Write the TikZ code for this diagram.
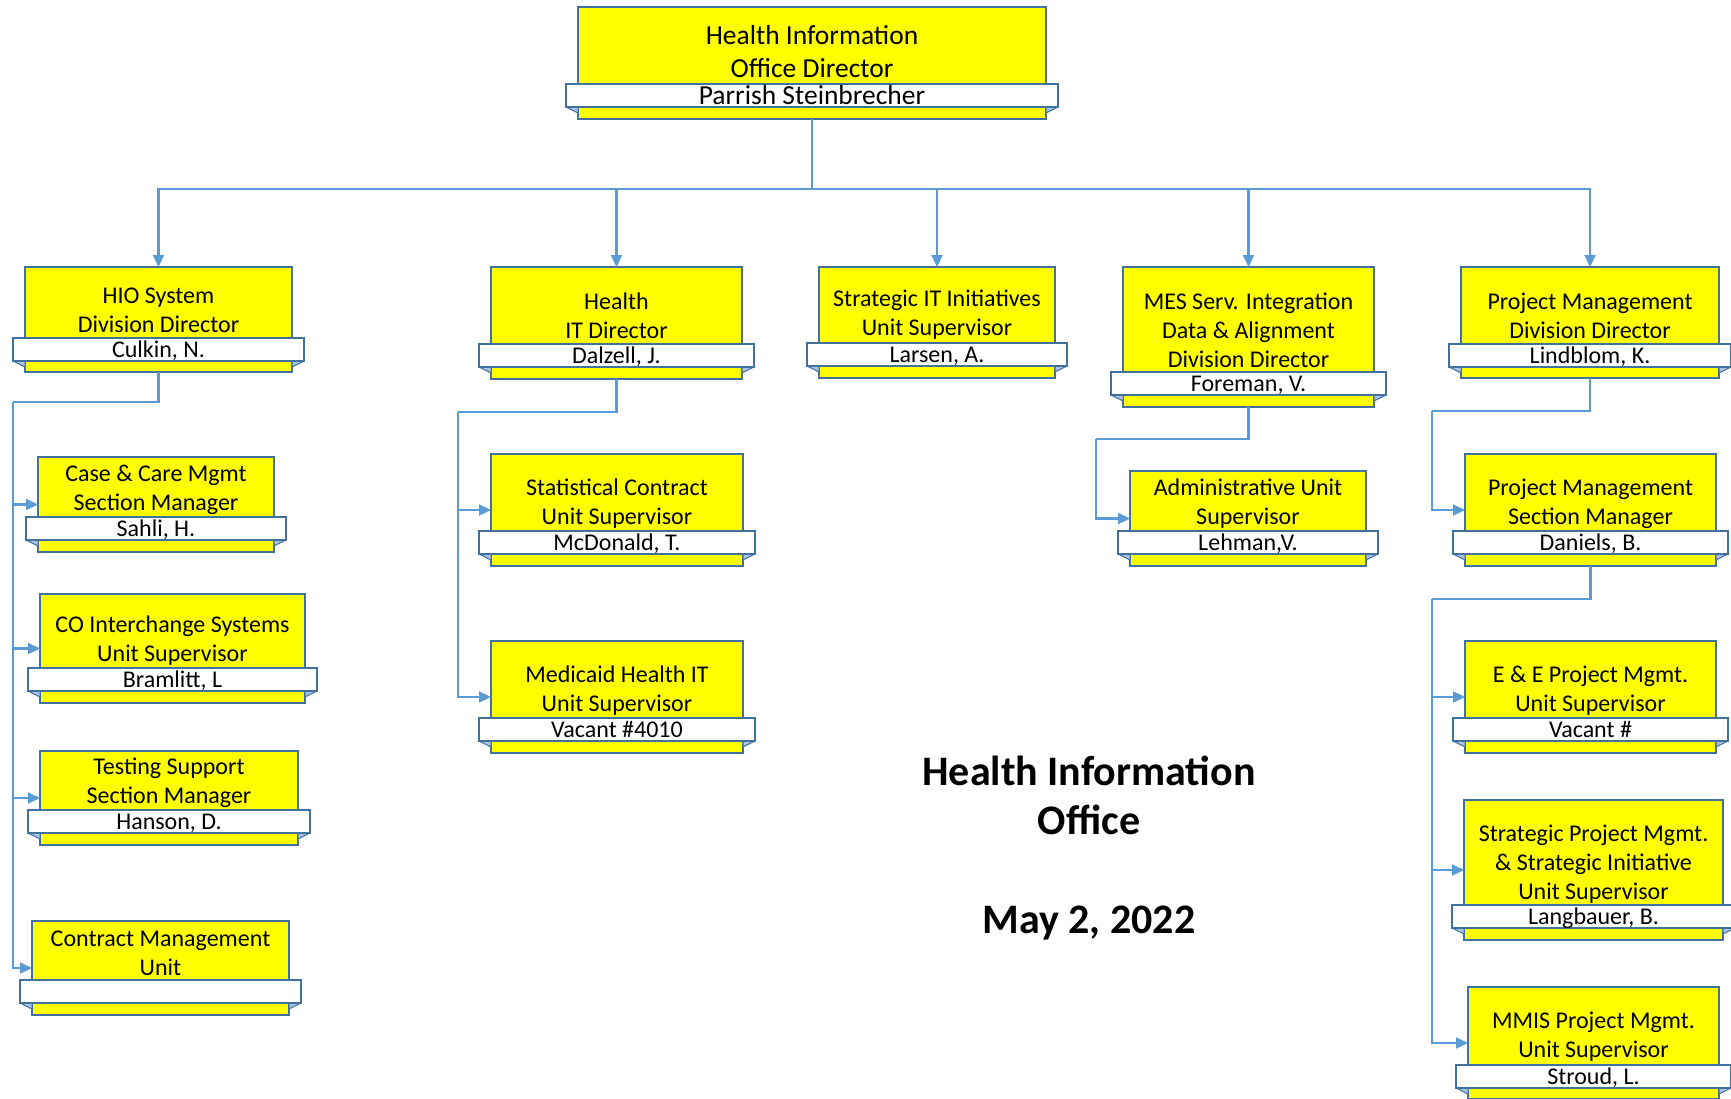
\documentclass[tikz,border=0pt]{standalone}
\usepackage{fontspec}
\setmainfont{Carlito}
\usetikzlibrary{arrows.meta}
\definecolor{boxyellow}{HTML}{FFFF00}
\definecolor{edgeblue}{HTML}{41719C}
\definecolor{linkblue}{HTML}{5B9BD5}
\definecolor{foldblue}{HTML}{A9C4E4}
\tikzset{
 ybox/.style={draw=edgeblue, fill=boxyellow, line width=1.3pt, inner sep=0pt, outer sep=0pt},
 bann/.style={draw=edgeblue, fill=white, line width=1.3pt, inner sep=0pt, outer sep=0pt, minimum height=23pt, font=\fontsize{24}{29}\selectfont, text height=19pt, text depth=3pt},
 ttl/.style={align=center, inner sep=0pt, font=\fontsize{24}{29}\selectfont},
 fold/.style={draw=edgeblue, fill=foldblue, line width=1pt, line join=round},
 conn/.style={draw=linkblue, line width=2.1pt},
 arr/.style={conn, -{Triangle[length=12pt,width=11pt]}},
 headline/.style={align=center, inner sep=0pt, font=\bfseries\fontsize{42}{49}\selectfont},
}
% #1 name, #2 x1, #3 x2, #4 y1, #5 y2, #6 banner top, #7 title, #8 title centre y, #9 person
\newcommand\obox[9]{%
  \node[ybox, minimum width={(#3-#2)*1pt}, minimum height={(#5-#4)*1pt}] (#1) at ({(#2+#3)/2},{(#4+#5)/2}) {};
  \path[fold] (#2-12,#6+23) -- (#2,#6+29) -- (#2,#6+23) -- cycle;
  \path[fold] (#3+12,#6+23) -- (#3,#6+29) -- (#3,#6+23) -- cycle;
  \node[bann, minimum width={(#3-#2+24)*1pt}] (#1n) at ({(#2+#3)/2},#6+11.5) {#9};
  \node[ttl] (#1t) at ({(#2+#3)/2},#8) {#7};
}
\begin{document}
\begin{tikzpicture}[x=1pt,y=-1pt]
\path[use as bounding box] (0,0) rectangle (1731,1098);
\clip (0,0) rectangle (1731,1098);

\begin{scope}[ttl/.append style={font=\fontsize{27.5}{33}\selectfont},
  bann/.append style={font=\fontsize{27.5}{33}\selectfont, text height=20pt, text depth=3pt}]
\obox{top}{578}{1046}{7}{119}{84}{Health Information\\Office Director}{52}{Parrish Steinbrecher}
\end{scope}

\obox{hio}{25}{292}{267}{372}{338}{HIO System\\Division Director}{310}{Culkin, N.}
\obox{hit}{491}{742}{267}{379}{344}{Health\\IT Director}{316}{Dalzell, J.}
\obox{sit}{819}{1055}{267}{378}{343}{Strategic IT Initiatives\\Unit Supervisor}{315}{Larsen, A.}
\obox{mes}{1123}{1374}{267}{407}{372}{MES Serv. Integration\\Data \& Alignment\\Division Director}{330}{Foreman, V.}
\obox{pmd}{1461}{1719}{267}{378}{344}{Project Management\\Division Director}{316}{Lindblom, K.}

\obox{cc}{38}{274}{457}{552}{517}{Case \& Care Mgmt\\Section Manager}{490}{Sahli, H.}
\obox{co}{40}{305}{594}{703}{668}{CO Interchange Systems\\Unit Supervisor}{641}{Bramlitt, L}
\obox{ts}{40}{298}{751}{845}{810}{Testing Support\\Section Manager}{783}{Hanson, D.}
\obox{cm}{32}{289}{921}{1015}{980}{Contract Management\\Unit}{953}{}

\obox{stat}{491}{743}{454}{566}{531}{Statistical Contract\\Unit Supervisor}{504}{McDonald, T.}
\obox{med}{491}{743}{641}{753}{718}{Medicaid Health IT\\Unit Supervisor}{691}{Vacant \#4010}

\obox{adm}{1130}{1366}{471}{566}{531}{Administrative Unit\\Supervisor}{504}{Lehman,V.}

\obox{pms}{1465}{1716}{454}{566}{531}{Project Management\\Section Manager}{504}{Daniels, B.}
\obox{ee}{1465}{1716}{641}{753}{718}{E \& E Project Mgmt.\\Unit Supervisor}{691}{Vacant \#}
\obox{spm}{1464}{1723}{800}{940}{905}{Strategic Project Mgmt.\\\& Strategic Initiative\\Unit Supervisor}{864}{Langbauer, B.}
\obox{mmis}{1468}{1719}{987}{1099}{1065}{MMIS Project Mgmt.\\Unit Supervisor}{1037}{Stroud, L.}

\node[headline] (head) at (1089,795) {Health Information\\Office};
\node[headline] (date) at (1089,923) {May 2, 2022};

\coordinate (bus) at (812,189);
\draw[conn] (top.south) -- (bus);
\foreach \c in {hio,hit,sit,mes,pmd} \draw[arr] (bus) -| (\c.north);

\coordinate (hioR) at (13,402);
\draw[conn] (hio.south) |- (hioR);
\foreach \c in {cc,co,ts,cm} \draw[arr] (hioR) |- (\c.west);

\coordinate (hitR) at (458,412);
\draw[conn] (hit.south) |- (hitR);
\foreach \c in {stat,med} \draw[arr] (hitR) |- (\c.west);

\coordinate (mesR) at (1096,439);
\draw[conn] (mes.south) |- (mesR);
\draw[arr] (mesR) |- (adm.west);

\coordinate (pmdR) at (1432,411);
\draw[conn] (pmd.south) |- (pmdR);
\draw[arr] (pmdR) |- (pms.west);

\coordinate (pmsR) at (1432,599);
\draw[conn] (pms.south) |- (pmsR);
\foreach \c in {ee,spm,mmis} \draw[arr] (pmsR) |- (\c.west);
\end{tikzpicture}
\end{document}
